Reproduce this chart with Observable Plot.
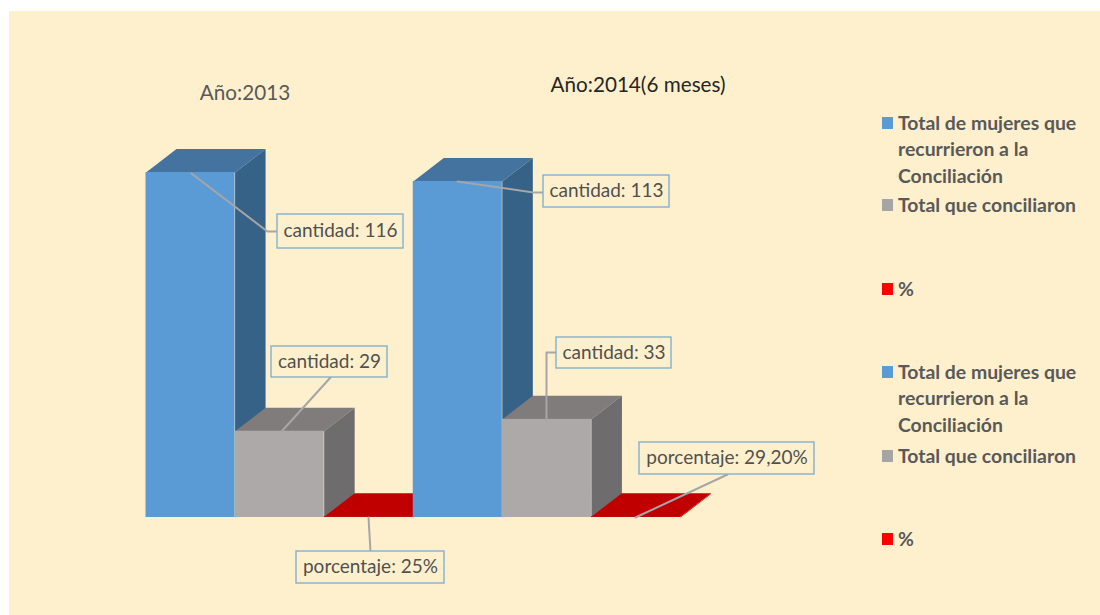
<!DOCTYPE html>
<html>
<head>
<meta charset="utf-8">
<script src="https://cdn.jsdelivr.net/npm/d3@7"></script>
<script src="https://cdn.jsdelivr.net/npm/@observablehq/plot@0.6"></script>
<style>
  html, body { margin: 0; padding: 0; background: #fff; width: 1100px; height: 615px; overflow: hidden; }
  #panel { position: absolute; left: 9px; top: 11px; right: 0; bottom: 0; background: #FEF0CD; }
  #chart { position: absolute; left: 0; top: 0; }
  #chart svg { background: transparent; display: block; }
</style>
</head>
<body>
<div id="panel"></div>
<div id="chart"></div>
<script>
// ---- data ----
const years = ["Año:2013", "Año:2014(6 meses)"];
const totalMujeres = [116, 113];
const totalConciliaron = [29, 33];
const porcentaje = [0.25, 0.292];
const legendLabels = ["Total de mujeres que\nrecurrieron a la\nConciliación", "Total que conciliaron", "%"];

// ---- scales ----
const slotPx = (680 - 145.5) / 6, valPx = (517 - 172) / 116;
const ux = px => (px - 145.5) / slotPx;   // pixel -> slot units, for annotations
const uy = py => (517 - py) / valPx;      // pixel -> value units, for annotations
const depthX = 30.5 / slotPx, depthY = 23.5 / valPx;

const FONT = "Lato, Carlito, sans-serif";
const CREAM = "#FEF0CD";

// ---- bars in painter's order ----
const styles = [
  {front: "#5B9BD5", top: "#44739F", side: "#376287"},
  {front: "#ADA9A8", top: "#807C7B", side: "#6E6C6C"},
  {front: "#C00000", top: "#C00000", side: "#C00000"}
];
const bars = [];
years.forEach((_, yi) => {
  [totalMujeres[yi], totalConciliaron[yi], porcentaje[yi]].forEach((v, si) => {
    bars.push({slot: yi * 3 + si, v, ...styles[si]});
  });
});
const poly = (pts, fill) => Plot.line(pts, {x: "x", y: "y", fill, stroke: "none", curve: "linear-closed"});
const barMarks = bars.flatMap(b => {
  const x0 = b.slot, x1 = b.slot + 1, v = b.v;
  return [
    poly([{x: x0, y: v}, {x: x1, y: v}, {x: x1 + depthX, y: v + depthY}, {x: x0 + depthX, y: v + depthY}], b.top),
    poly([{x: x1, y: 0}, {x: x1 + depthX, y: depthY}, {x: x1 + depthX, y: v + depthY}, {x: x1, y: v}], b.side),
    Plot.rect([b], {x1: () => x0, x2: () => x1, y1: () => 0, y2: () => v, fill: b.front, inset: 0})
  ];
});

// ---- callouts ----
const callouts = [
  {t: `cantidad: ${totalMujeres[0]}`, box: [277, 403, 214, 248], path: [[191, 173], [267, 231], [277, 231]]},
  {t: `cantidad: ${totalConciliaron[0]}`, box: [271, 387, 346, 377], path: [[281, 431], [330, 377]]},
  {t: "porcentaje: 25%", box: [296, 444, 551, 583], path: [[368, 517], [370, 551]]},
  {t: `cantidad: ${totalMujeres[1]}`, box: [543, 669, 175, 207], path: [[457, 181], [533, 192], [543, 192]]},
  {t: `cantidad: ${totalConciliaron[1]}`, box: [556, 671, 337, 368], path: [[546, 420], [546, 352], [556, 352]]},
  {t: "porcentaje: 29,20%", box: [639, 814, 442, 474], path: [[635, 517], [727, 474]]}
];
const calloutMarks = callouts.flatMap(c => [
  Plot.line(c.path, {x: d => ux(d[0]), y: d => uy(d[1]), stroke: "#A6A6A6", strokeWidth: 2}),
  Plot.rect([c], {
    x1: d => ux(d.box[0]), x2: d => ux(d.box[1]), y1: d => uy(d.box[2]), y2: d => uy(d.box[3]),
    fill: CREAM, stroke: "#82B0D2", strokeWidth: 1.4, inset: 0
  }),
  Plot.text([c], {
    x: d => ux((d.box[0] + d.box[1]) / 2), y: d => uy((d.box[2] + d.box[3]) / 2 - 0.5),
    text: "t", fontFamily: FONT, fontSize: 19, fill: "#505050", stroke: "none"
  })
]);

// ---- titles ----
const titleMarks = [
  Plot.text([years[0]], {x: () => ux(244.5), y: () => uy(93), text: d => d, fontFamily: FONT, fontSize: 20.7, fill: "#595959"}),
  Plot.text([years[1]], {x: () => ux(637.5), y: () => uy(85), text: d => d, fontFamily: FONT, fontSize: 20.7, fill: "#262626"})
];

// ---- legend, drawn twice as in the reference ----
const legendColors = ["#5B9BD5", "#A5A5A5", "#FF0000"];
const legendRows = [
  {i: 0, mark: 123, text: 147.5}, {i: 1, mark: 205, text: 203.5}, {i: 2, mark: 289, text: 287.5},
  {i: 0, mark: 372, text: 396.5}, {i: 1, mark: 456, text: 454.5}, {i: 2, mark: 539, text: 537.5}
];
const legendMarks = [
  Plot.rect(legendRows, {
    x1: () => ux(882), x2: () => ux(893),
    y1: d => uy(d.mark - 6), y2: d => uy(d.mark + 6),
    fill: d => legendColors[d.i], inset: 0
  }),
  Plot.text(legendRows, {
    x: () => ux(897.5), y: d => uy(d.text), text: d => legendLabels[d.i],
    textAnchor: "start", lineHeight: 1.35, fontFamily: FONT, fontSize: 19.4, fontWeight: 700, fill: "#595959"
  })
];

const plot = Plot.plot({
  width: 1100, height: 615, margin: 0,
  style: {background: "transparent", overflow: "visible"},
  x: {type: "linear", domain: [0, 6], range: [145.5, 680], axis: null},
  y: {type: "linear", domain: [0, 116], range: [517, 172], axis: null},
  color: {type: "identity"},
  marks: [...barMarks, ...calloutMarks, ...titleMarks, ...legendMarks]
});
document.getElementById("chart").append(plot);
</script>
</body>
</html>
